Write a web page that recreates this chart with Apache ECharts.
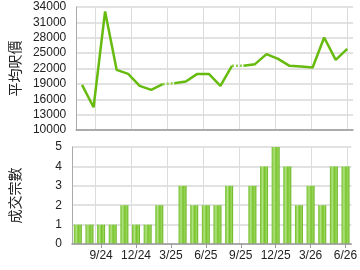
<!DOCTYPE html>
<html><head><meta charset="utf-8">
<script src="https://cdn.jsdelivr.net/npm/echarts@6/dist/echarts.min.js"></script>
<style>html,body{margin:0;padding:0;background:#fff}#c{width:360px;height:270px}</style>
</head><body><div id="c"></div>
<script>
var months = ['7/24','8/24','9/24','10/24','11/24','12/24','1/25','2/25','3/25','4/25','5/25','6/25','7/25','8/25','9/25','10/25','11/25','12/25','1/26','2/26','3/26','4/26','5/26','6/26'];
var avgPrice = [18800,14440,33140,21740,20950,18610,17820,18940,19130,19450,20950,20950,18610,22520,22520,22850,24810,23890,22520,22380,22190,28050,23690,25840];
var dealCount = [1,1,1,1,2,1,1,2,0,3,2,2,2,3,0,3,4,5,4,2,3,2,4,4];
var priceTicks = {min:10000, max:34000, step:3000};
var countTicks = {min:0, max:5, step:1};
// months without deals: line segment into them is dotted
var gapIdx = [8,14];

function segment(from, to){
  return avgPrice.map(function(v,i){return (i>=from && i<=to)?v:null;});
}
var bounds = [0].concat(gapIdx).concat([avgPrice.length]);
var solidSeries = [];
for (var k=0;k<bounds.length-1;k++){
  solidSeries.push(segment(bounds[k], bounds[k+1]-1));
}
var dotted = avgPrice.map(function(v,i){
  for (var j=0;j<gapIdx.length;j++){ if (i===gapIdx[j] || i===gapIdx[j]-1) return v; }
  return null;
});

var GREEN = '#66bb0e';
var LABEL_STEP = 3, LABEL_OFFSET = 2;
var labelEvery = function(i){ return i % LABEL_STEP === LABEL_OFFSET; };

// layout
var W = 360, L = 65, R = 7;
var G0 = {top:7, height:123}, G1 = {top:147, height:97};
var plotW = W - L - R, catW = plotW / months.length;
var lastLabelled = months.length - 1 - ((months.length - 1 - LABEL_OFFSET) % LABEL_STEP);
// helper grids spanning from first to last labelled category centre, for vertical grid lines
var hLeft = L + (LABEL_OFFSET + 0.5) * catW;
var hRight = W - (L + (lastLabelled + 0.5) * catW);
var hSpan = lastLabelled - LABEL_OFFSET;

var chart = echarts.init(document.getElementById('c'));
var series = [];
solidSeries.forEach(function(d){
  series.push({type:'line', xAxisIndex:0, yAxisIndex:0, data:d, showSymbol:false, symbol:'none', connectNulls:false,
    lineStyle:{color:GREEN, width:2.5}, animation:false, z:3});
});
series.push({type:'line', xAxisIndex:0, yAxisIndex:0, data:dotted, showSymbol:false, symbol:'none', connectNulls:false,
  lineStyle:{color:'#8fd14a', width:2.5, type:[2,2]}, animation:false, z:2});
series.push({type:'bar', xAxisIndex:1, yAxisIndex:1, data:dealCount, barWidth:8, animation:false, z:3,
  itemStyle:{color:new echarts.graphic.LinearGradient(0,0,1,0,[
    {offset:0,color:'#6dbd22'},{offset:0.3,color:'#b2e384'},{offset:0.55,color:'#78c42c'},{offset:0.8,color:'#9ad65c'},{offset:1,color:'#5fae14'}])}});

var axisFont = {fontFamily:'Liberation Sans, Arial, sans-serif', fontSize:12, color:'#222'};
function helperX(g){
  return {type:'value', gridIndex:g, min:0, max:hSpan, interval:LABEL_STEP,
    axisLine:{show:false}, axisTick:{show:false}, axisLabel:{show:false},
    splitLine:{show:true, lineStyle:{color:'#dcdcdc', width:1}}};
}
function helperY(g){
  return {type:'value', gridIndex:g, min:0, max:1, show:false, splitLine:{show:false}};
}
chart.setOption({
  animation:false,
  grid:[{left:L, right:R, top:G0.top, height:G0.height, containLabel:false},
        {left:L, right:R, top:G1.top, height:G1.height, containLabel:false},
        {left:hLeft, right:hRight, top:G0.top, height:G0.height, containLabel:false},
        {left:hLeft, right:hRight, top:G1.top, height:G1.height, containLabel:false}],
  xAxis:[
    {type:'category', gridIndex:0, data:months, boundaryGap:true, z:4,
     axisLine:{lineStyle:{color:'#999', width:1.5}}, axisTick:{show:false}, axisLabel:{show:false},
     splitLine:{show:false}},
    {type:'category', gridIndex:1, data:months, boundaryGap:true, z:4,
     axisLine:{lineStyle:{color:'#999', width:1.5}},
     axisTick:{show:true, alignWithLabel:true, interval:labelEvery, length:4, lineStyle:{color:'#999'}},
     axisLabel:Object.assign({interval:labelEvery, margin:6}, axisFont),
     splitLine:{show:false}},
    helperX(2), helperX(3)
  ],
  yAxis:[
    {type:'value', gridIndex:0, min:priceTicks.min, max:priceTicks.max, interval:priceTicks.step,
     name:'平均呎價', nameLocation:'middle', nameGap:50, nameRotate:90,
     nameTextStyle:{fontFamily:'Noto Sans CJK TC', fontSize:14, color:'#222'},
     axisLine:{show:true, lineStyle:{color:'#aaa'}}, axisTick:{show:false},
     axisLabel:Object.assign({margin:10, formatter:function(v){return String(v);}}, axisFont),
     splitLine:{lineStyle:{color:'#e2e2e2', width:2}}},
    {type:'value', gridIndex:1, min:countTicks.min, max:countTicks.max, interval:countTicks.step,
     name:'成交宗數', nameLocation:'middle', nameGap:50, nameRotate:90,
     nameTextStyle:{fontFamily:'Noto Sans CJK TC', fontSize:14, color:'#222'},
     axisLine:{show:true, lineStyle:{color:'#aaa'}}, axisTick:{show:false},
     axisLabel:Object.assign({margin:10}, axisFont),
     splitLine:{lineStyle:{color:'#e2e2e2', width:2}}},
    helperY(2), helperY(3)
  ],
  series:series
});
</script></body></html>
